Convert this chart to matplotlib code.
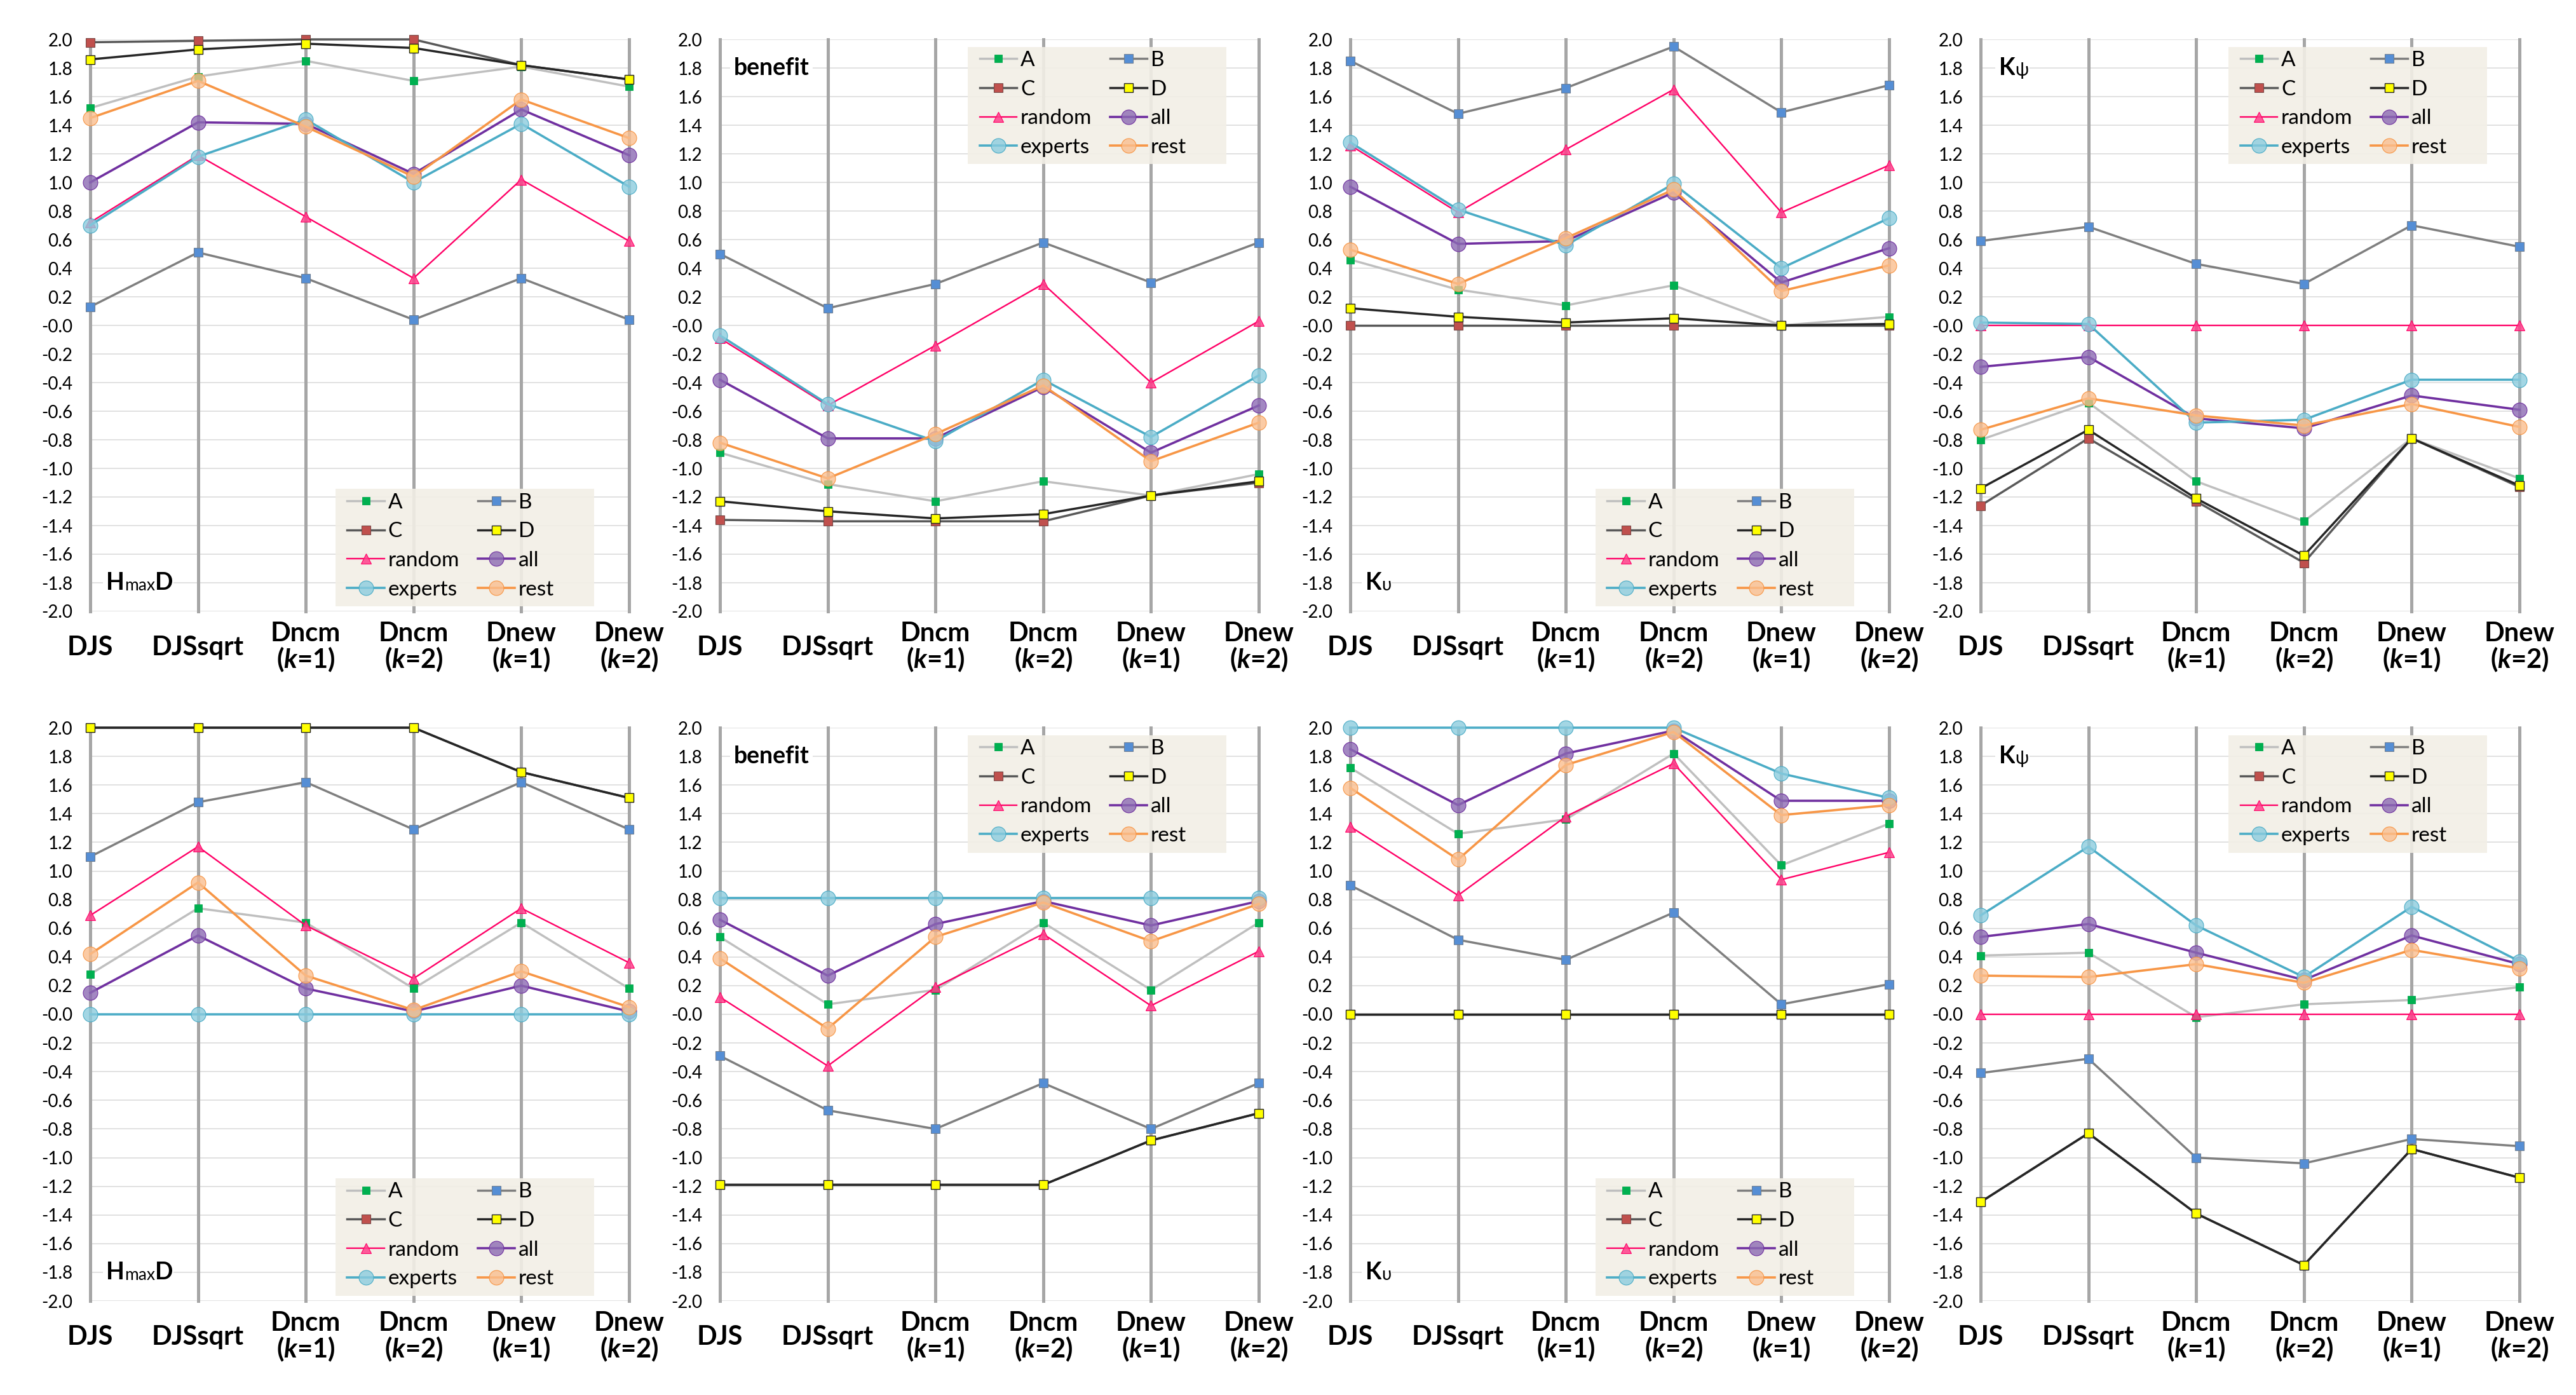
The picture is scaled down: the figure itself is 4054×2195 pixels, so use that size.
import numpy as np
import matplotlib
matplotlib.use('Agg')
import matplotlib.pyplot as plt
from matplotlib.patches import Rectangle

plt.rcParams['font.family'] = ['Lato', 'DejaVu Sans']
plt.rcParams['mathtext.fontset'] = 'custom'
plt.rcParams['mathtext.it'] = 'Lato:italic:bold'
plt.rcParams['mathtext.rm'] = 'Lato:bold'

# categories and series
cats = ['DJS', 'DJSsqrt', 'Dncm\n($k$=1)', 'Dncm\n($k$=2)', 'Dnew\n($k$=1)', 'Dnew\n($k$=2)']
series = ['A', 'B', 'C', 'D', 'random', 'all', 'experts', 'rest']
yticks = np.round(np.arange(-2.0, 2.01, 0.2), 1)

# top row (rows follow `series`)
hmaxd_1 = [[1.52, 1.74, 1.85, 1.71, 1.81, 1.67],
           [0.13, 0.51, 0.33, 0.04, 0.33, 0.04],
           [1.98, 1.99, 2.00, 2.00, 1.82, 1.72],
           [1.86, 1.93, 1.97, 1.94, 1.82, 1.72],
           [0.72, 1.19, 0.76, 0.33, 1.02, 0.59],
           [1.00, 1.42, 1.41, 1.06, 1.51, 1.19],
           [0.70, 1.18, 1.44, 1.00, 1.41, 0.97],
           [1.45, 1.71, 1.39, 1.04, 1.58, 1.31]]
benefit_1 = [[-0.89, -1.11, -1.23, -1.09, -1.19, -1.04],
             [0.50, 0.12, 0.29, 0.58, 0.30, 0.58],
             [-1.36, -1.37, -1.37, -1.37, -1.19, -1.10],
             [-1.23, -1.30, -1.35, -1.32, -1.19, -1.09],
             [-0.09, -0.56, -0.14, 0.29, -0.40, 0.03],
             [-0.38, -0.79, -0.79, -0.43, -0.89, -0.56],
             [-0.07, -0.55, -0.81, -0.38, -0.78, -0.35],
             [-0.82, -1.07, -0.76, -0.42, -0.95, -0.68]]
ku_1 = [[0.46, 0.25, 0.14, 0.28, 0.00, 0.06],
        [1.85, 1.48, 1.66, 1.95, 1.49, 1.68],
        [0.00, 0.00, 0.00, 0.00, 0.00, 0.00],
        [0.12, 0.06, 0.02, 0.05, 0.00, 0.01],
        [1.26, 0.79, 1.23, 1.65, 0.79, 1.12],
        [0.97, 0.57, 0.59, 0.93, 0.30, 0.54],
        [1.28, 0.81, 0.56, 0.99, 0.40, 0.75],
        [0.53, 0.29, 0.61, 0.95, 0.24, 0.42]]
kpsi_1 = [[-0.80, -0.54, -1.09, -1.37, -0.79, -1.07],
          [0.59, 0.69, 0.43, 0.29, 0.70, 0.55],
          [-1.26, -0.79, -1.23, -1.66, -0.79, -1.13],
          [-1.14, -0.73, -1.21, -1.61, -0.79, -1.12],
          [0.00, 0.00, 0.00, 0.00, 0.00, 0.00],
          [-0.29, -0.22, -0.65, -0.72, -0.49, -0.59],
          [0.02, 0.01, -0.68, -0.66, -0.38, -0.38],
          [-0.73, -0.51, -0.63, -0.70, -0.55, -0.71]]

# bottom row
hmaxd_2 = [[0.28, 0.74, 0.64, 0.18, 0.64, 0.18],
           [1.10, 1.48, 1.62, 1.29, 1.62, 1.29],
           [2.00, 2.00, 2.00, 2.00, 1.69, 1.51],
           [2.00, 2.00, 2.00, 2.00, 1.69, 1.51],
           [0.69, 1.17, 0.62, 0.25, 0.74, 0.36],
           [0.15, 0.55, 0.18, 0.02, 0.20, 0.02],
           [0.00, 0.00, 0.00, 0.00, 0.00, 0.00],
           [0.42, 0.92, 0.27, 0.03, 0.30, 0.05]]
benefit_2 = [[0.54, 0.07, 0.17, 0.64, 0.17, 0.64],
             [-0.29, -0.67, -0.80, -0.48, -0.80, -0.48],
             [-1.19, -1.19, -1.19, -1.19, -0.88, -0.69],
             [-1.19, -1.19, -1.19, -1.19, -0.88, -0.69],
             [0.12, -0.36, 0.19, 0.56, 0.06, 0.44],
             [0.66, 0.27, 0.63, 0.79, 0.62, 0.79],
             [0.81, 0.81, 0.81, 0.81, 0.81, 0.81],
             [0.39, -0.10, 0.54, 0.78, 0.51, 0.77]]
ku_2 = [[1.72, 1.26, 1.36, 1.82, 1.04, 1.33],
        [0.90, 0.52, 0.38, 0.71, 0.07, 0.21],
        [0.00, 0.00, 0.00, 0.00, 0.00, 0.00],
        [0.00, 0.00, 0.00, 0.00, 0.00, 0.00],
        [1.31, 0.83, 1.38, 1.75, 0.94, 1.13],
        [1.85, 1.46, 1.82, 1.98, 1.49, 1.49],
        [2.00, 2.00, 2.00, 2.00, 1.68, 1.51],
        [1.58, 1.08, 1.74, 1.97, 1.39, 1.46]]
kpsi_2 = [[0.41, 0.43, -0.02, 0.07, 0.10, 0.19],
          [-0.41, -0.31, -1.00, -1.04, -0.87, -0.92],
          [-1.31, -0.83, -1.39, -1.75, -0.94, -1.14],
          [-1.31, -0.83, -1.39, -1.75, -0.94, -1.14],
          [0.00, 0.00, 0.00, 0.00, 0.00, 0.00],
          [0.54, 0.63, 0.43, 0.24, 0.55, 0.35],
          [0.69, 1.17, 0.62, 0.26, 0.75, 0.37],
          [0.27, 0.26, 0.35, 0.22, 0.45, 0.32]]

styles = {
    'A': dict(color='#bfbfbf', lw=2.5, marker='s', ms=8.5, mfc='#00b050', mec='#00a84c', mew=0.6),
    'B': dict(color='#7f7f7f', lw=2.5, marker='s', ms=9.5, mfc='#558ed5', mec='#6f7f93', mew=0.8),
    'C': dict(color='#595959', lw=2.5, marker='s', ms=9.5, mfc='#c0504d', mec='#7a4a48', mew=0.8),
    'D': dict(color='#262626', lw=2.5, marker='s', ms=9.5, mfc='#ffff00', mec='#262626', mew=1.0),
    'random': dict(color='#ff0066', lw=1.7, marker='^', ms=11, mfc=(1.0, 0.25, 0.55, 0.85), mec='#ff0066', mew=0.8),
    'all': dict(color='#7030a0', lw=2.6, marker='o', ms=16.5, mfc=(0.55, 0.42, 0.70, 0.8), mec='#7030a0', mew=0.8),
    'experts': dict(color='#4bacc6', lw=2.6, marker='o', ms=16.5, mfc=(0.55, 0.80, 0.87, 0.8), mec='#4bacc6', mew=0.8),
    'rest': dict(color='#f79646', lw=2.6, marker='o', ms=16.5, mfc=(0.98, 0.75, 0.56, 0.8), mec='#f79646', mew=0.8),
}

panels = [
    (hmaxd_1, 'hmaxd', 'lower'), (benefit_1, 'benefit', 'upper'),
    (ku_1, 'ku', 'lower'), (kpsi_1, 'kpsi', 'upper'),
    (hmaxd_2, 'hmaxd', 'lower'), (benefit_2, 'benefit', 'upper'),
    (ku_2, 'ku', 'lower'), (kpsi_2, 'kpsi', 'upper'),
]

lefts = [142, 1133, 2125, 3117]
W, H = 4054, 2195

fig = plt.figure(figsize=(W / 100, H / 100), dpi=100)


def panel_label(ax, kind, y):
    if kind == 'hmaxd':
        parts = [('H', 27, 'bold'), ('max', 19, 'normal'), ('D', 27, 'bold')]
        x = 0.15
    elif kind == 'benefit':
        parts = [('benefit', 27, 'bold')]
        x = 0.13
    elif kind == 'ku':
        parts = [('K', 27, 'bold'), ('\u03c5', 20, 'normal')]
        x = 0.14
    else:
        parts = [('K', 27, 'bold'), ('\u03c8', 20, 'normal')]
        x = 0.17
    prev = None
    for s, size, weight in parts:
        if prev is None:
            prev = ax.text(x, y, s, fontsize=size, fontweight=weight, ha='left', va='center',
                           bbox=dict(fc='white', ec='none', pad=4), zorder=6)
        else:
            prev = ax.annotate(s, xy=(1, 0), xycoords=prev, fontsize=size, fontweight=weight,
                               ha='left', va='bottom', zorder=7,
                               bbox=dict(fc='white', ec='none', pad=0.5))


for k, (data, kind, legpos) in enumerate(panels):
    row, col = divmod(k, 4)
    if row == 0:
        top, bot = 62, 962
    else:
        top, bot = 1145, 2047
    ax = fig.add_axes([lefts[col] / W, (H - bot) / H, 848 / W, (bot - top) / H])
    x = np.arange(len(cats))

    for i in x:
        ax.axvline(i, color='#a6a6a6', lw=3.6, zorder=1, clip_on=False)
    ax.set_yticks(yticks)
    ax.yaxis.grid(True, color='#d9d9d9', lw=1.1, zorder=0)
    ax.set_axisbelow(True)

    handles = {}
    for j, name in enumerate(series):
        ln, = ax.plot(x, data[j], label=name, clip_on=False, zorder=3 + j * 0.1, **styles[name])
        handles[name] = ln

    ax.set_xlim(0, 5)
    ax.set_ylim(-2, 2)
    for s in ax.spines.values():
        s.set_visible(False)
    ax.set_yticklabels(['%.1f' % v for v in yticks], fontsize=20)
    ax.tick_params(axis='y', length=0, pad=20)
    ax.set_xticks(x)
    ax.set_xticklabels(cats, fontsize=30, fontweight='bold', va='center', linespacing=1.0)
    ax.tick_params(axis='x', length=0, pad=41)

    # legend box
    if legpos == 'lower':
        bx0, by0, bx1, by1 = 0.455, 0.009, 0.935, 0.214
    else:
        bx0, by0, bx1, by1 = 0.46, 0.782, 0.94, 0.987
    ax.add_patch(Rectangle((bx0, by0), bx1 - bx0, by1 - by0, transform=ax.transAxes,
                           fc='#f2efe6', ec='none', alpha=0.9, zorder=4, clip_on=False))
    order = ['A', 'C', 'random', 'experts', 'B', 'D', 'all', 'rest']
    leg = ax.legend([handles[n] for n in order], order, ncol=2, fontsize=24,
                    loc='upper left', bbox_to_anchor=(bx0 + 0.022, by1 - 0.007),
                    borderaxespad=0, borderpad=0,
                    handlelength=1.75, handletextpad=0.18, columnspacing=0.85,
                    labelspacing=0.47, frameon=False)
    leg.set_zorder(5)

    panel_label(ax, kind, -1.8 if legpos == 'lower' else 1.8)

fig.savefig('out.png', dpi=100)
